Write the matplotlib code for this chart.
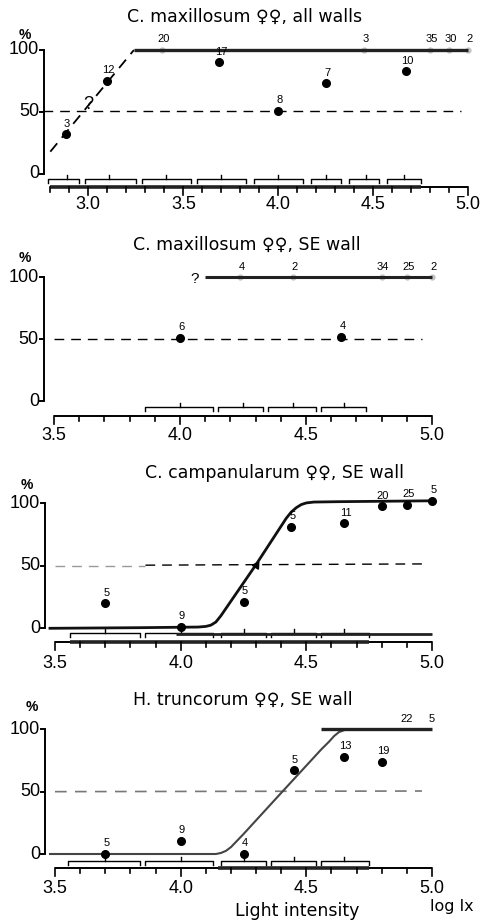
import numpy as np
import matplotlib
matplotlib.use('Agg')
import matplotlib.pyplot as plt

plt.rcParams['font.family'] = ['Liberation Sans', 'DejaVu Sans']

W, H = 480, 921

# --- C. maxillosum, all walls
p1_x = [2.88, 3.10, 3.39, 3.69, 4.00, 4.25, 4.45, 4.67, 4.80, 4.90, 5.00]
p1_y = [32, 75, 100, 90, 51, 73, 100, 83, 100, 100, 100]
p1_n = ['3', '12', '20', '17', '8', '7', '3', '10', '35', '30', '2']
p1_fit_x = [2.80, 3.24]
p1_fit_y = [18, 100]
p1_bins = [(2.79, 2.95), (2.98, 3.25), (3.28, 3.54), (3.57, 3.83),
           (3.87, 4.13), (4.17, 4.33), (4.37, 4.53), (4.57, 4.75)]
p1_mid = [2.89, 3.11, 3.41, 3.70, 4.00, 4.25, 4.46, 4.66]

# --- C. maxillosum, SE wall
p2_x = [4.00, 4.24, 4.45, 4.64, 4.80, 4.90, 5.00]
p2_y = [51, 100, 100, 52, 100, 100, 100]
p2_n = ['6', '4', '2', '4', '34', '25', '2']
p2_bins = [(3.86, 4.13), (4.15, 4.33), (4.35, 4.54), (4.56, 4.74)]
p2_mid = [4.00, 4.25, 4.45, 4.65]

# --- C. campanularum, SE wall
p3_x = [3.70, 4.00, 4.25, 4.44, 4.65, 4.80, 4.90, 5.00]
p3_y = [20, 1, 21, 81, 84, 97.5, 99, 102]
p3_n = ['5', '9', '5', '5', '11', '20', '25', '5']
p3_curve_x = [3.48, 3.84, 4.07, 4.10, 4.12, 4.14, 4.16, 4.30, 4.42, 4.44,
              4.46, 4.48, 4.50, 4.53, 4.63, 5.00]
p3_curve_y = [0, 0.5, 1.0, 1.5, 2.5, 5.0, 10.0, 51.0, 88.0, 93.0,
              96.5, 99.0, 100.3, 101.0, 101.3, 102]
p3_bins = [(3.56, 3.84), (3.86, 4.13), (4.16, 4.34), (4.36, 4.54), (4.56, 4.75)]
p3_mid = [3.70, 4.00, 4.25, 4.45, 4.65]

# --- H. truncorum, SE wall
p4_x = [3.70, 4.00, 4.25, 4.45, 4.65, 4.80, 4.90, 5.00]
p4_y = [0, 10.5, 0, 67, 78, 74, 100, 100]
p4_n = ['5', '9', '4', '5', '13', '19', '22', '5']
p4_curve_x = [3.48, 3.84, 4.14, 4.16, 4.18, 4.20, 4.25, 4.40, 4.56, 4.59,
              4.61, 4.63, 4.66]
p4_curve_y = [0, 0, 0, 0.8, 2.5, 5.5, 16.0, 49.0, 84.0, 90.0,
              94.5, 97.8, 100.0]
p4_bins = [(3.55, 3.84), (3.86, 4.13), (4.16, 4.34), (4.36, 4.54), (4.56, 4.75)]
p4_mid = [3.70, 4.00, 4.25, 4.45, 4.65]

LABEL_FONT = ['DejaVu Sans']

fig = plt.figure(figsize=(W / 100, H / 100), dpi=100)


def panel_axes(top, bot, xa, pxa, xb, pxb, py100, py0):
    # axes spanning the full width; limits chosen so data lands on the page grid
    sx = (xb - xa) / (pxb - pxa)
    sy = 100.0 / (py0 - py100)
    ax = fig.add_axes([0, 1 - bot / H, 1, (bot - top) / H])
    ax.set_xlim(xa - pxa * sx, xa + (W - pxa) * sx)
    ax.set_ylim((py0 - bot) * sy, (py0 - top) * sy)
    ax.axis('off')
    return ax, sx, sy


def frame(ax, sx, sy, yspine, xlo, base, lab_off, ticks_lab, thick=None):
    # y axis: 0..100 with short ticks to the left
    ax.plot([yspine, yspine], [0, 100], color='k', lw=1.4, solid_capstyle='butt')
    for v in (0, 50, 100):
        ax.plot([yspine - 4 * sx, yspine], [v, v], color='k', lw=1.4)
        ax.text(yspine - 5 * sx, v, str(v), ha='right', va='center', fontsize=13)
    # x axis with 0.1 ticks pointing down
    ax.plot([xlo, 5.0], [base, base], color='k', lw=1.4, solid_capstyle='butt')
    if thick:
        ax.plot(thick, [base, base], color='#222', lw=2.6, solid_capstyle='butt')
    for t in np.arange(xlo, 5.001, 0.1):
        major = abs(t * 2 - round(t * 2)) < 1e-6
        ln = 8 if major else 5
        ax.plot([t, t], [base, base - ln * sy], color='k', lw=1.2)
    for t in ticks_lab:
        ax.text(t, base - lab_off * sy, f'{t:.1f}', ha='center', va='center', fontsize=13)


def brackets(ax, sy, bins, mids, top):
    for (a, b), m in zip(bins, mids):
        ax.plot([a, a, b, b], [top - 4 * sy, top, top, top - 4 * sy], color='k', lw=1.0)
        ax.plot([m, m], [top, top + 4 * sy], color='k', lw=1.0)


def points(ax, xs, ys, ns, faint_at_top=True):
    for x, y, n in zip(xs, ys, ns):
        on_line = faint_at_top and y >= 100
        ax.plot(x, y, 'o', ms=3.5 if on_line else 5.5,
                color='#c4c4c4' if on_line else 'k', zorder=4 if not on_line else 1)
        ax.annotate(n, (x, y), xytext=(1, 4), textcoords='offset points',
                    ha='center', va='bottom', fontsize=8, zorder=5)


def title(ax, x, y, text):
    ax.text(x, y, text, ha='center', va='center', fontsize=12.5, family=LABEL_FONT)


def percent(ax, x, y):
    ax.text(x, y, '%', ha='center', va='center', fontsize=10, fontweight='bold')


# panel 1
ax, sx, sy = panel_axes(0, 222, 3.0, 88.3, 5.0, 468.3, 50, 174)
frame(ax, sx, sy, 2.767, 2.8, -10.2, 18, [3.0, 3.5, 4.0, 4.5, 5.0], thick=[2.8, 4.75])
brackets(ax, sy, p1_bins, p1_mid, -4)
ax.plot([2.76, 4.96], [51, 51], color='k', lw=1.0, ls=(0, (7, 5)))
ax.plot(p1_fit_x, p1_fit_y, color='k', lw=1.3, ls=(0, (6, 4)))
ax.plot([3.24, 5.0], [100, 100], color='#222', lw=2.4, solid_capstyle='butt')
points(ax, p1_x, p1_y, p1_n)
ax.text(3.0, 56, '?', ha='center', va='center', fontsize=13)
percent(ax, 2.667, 112)
title(ax, 3.82, 126.5, 'C. maxillosum ♀♀, all walls')

# panel 2
ax, sx, sy = panel_axes(222, 443, 3.5, 54, 5.0, 432, 277.3, 401)
frame(ax, sx, sy, 3.46, 3.5, -11.9, 20, [3.5, 4.0, 4.5, 5.0])
brackets(ax, sy, p2_bins, p2_mid, -4.9)
ax.plot([3.5, 4.96], [50.5, 50.5], color='k', lw=1.0, ls=(0, (7, 5)))
ax.plot([4.10, 5.0], [100, 100], color='#222', lw=2.2, solid_capstyle='butt')
points(ax, p2_x, p2_y, p2_n)
ax.text(4.06, 98.5, '?', ha='center', va='center', fontsize=11)
percent(ax, 3.385, 116)
title(ax, 4.266, 126, 'C. maxillosum ♀♀, SE wall')

# panel 3
ax, sx, sy = panel_axes(443, 672, 3.5, 55, 5.0, 432, 503.3, 628.3)
frame(ax, sx, sy, 3.46, 3.5, -11.2, 21, [3.5, 4.0, 4.5, 5.0], thick=[3.56, 4.75])
brackets(ax, sy, p3_bins, p3_mid, -4)
ax.plot([3.98, 5.0], [-4.6, -4.6], color='#222', lw=2.0, solid_capstyle='butt')
ax.plot([3.5, 3.86], [49.5, 49.5], color='#999', lw=1.0, ls=(0, (7, 5)))
ax.plot([3.86, 4.96], [50.5, 51.5], color='k', lw=1.0, ls=(0, (7, 5)))
ax.plot(p3_curve_x, p3_curve_y, color='#111', lw=2.0, solid_joinstyle='round')
ax.plot(4.30, 51, marker=(3, 0, -33), ms=6, color='k')
points(ax, p3_x, p3_y, p3_n, faint_at_top=False)
percent(ax, 3.389, 115)
title(ax, 4.375, 124, 'C. campanularum ♀♀, SE wall')

# panel 4
ax, sx, sy = panel_axes(672, 921, 3.5, 55, 5.0, 432, 729.3, 854)
frame(ax, sx, sy, 3.46, 3.5, -11.5, 20, [3.5, 4.0, 4.5, 5.0], thick=[4.15, 4.75])
brackets(ax, sy, p4_bins, p4_mid, -5.6)
ax.plot([3.5, 4.96], [50, 50.5], color='#777', lw=1.2, ls=(0, (7, 5)))
ax.plot(p4_curve_x, p4_curve_y, color='#444', lw=1.5, solid_joinstyle='round')
ax.plot([4.56, 5.0], [100, 100], color='#222', lw=2.4, solid_capstyle='butt')
points(ax, p4_x[:6], p4_y[:6], p4_n[:6], faint_at_top=False)
for x, n in zip(p4_x[6:], p4_n[6:]):
    ax.annotate(n, (x, 100), xytext=(0, 4), textcoords='offset points',
                ha='center', va='bottom', fontsize=8)
percent(ax, 3.408, 118)
title(ax, 4.248, 123.5, 'H. truncorum ♀♀, SE wall')
ax.text(5.08, -42.5, 'log lx', ha='center', va='center', fontsize=11.5, family=LABEL_FONT)
ax.text(4.463, -46, 'Light intensity', ha='center', va='center', fontsize=12.5,
        family=LABEL_FONT)

fig.savefig('out.png', dpi=100)
